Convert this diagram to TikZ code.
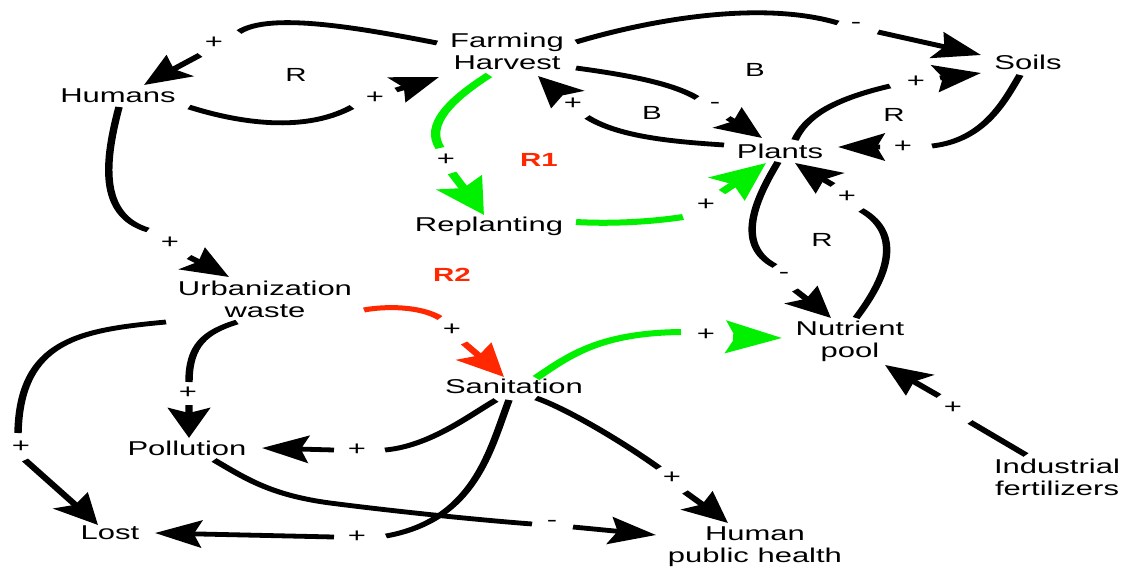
\documentclass[tikz,border=0pt]{standalone}
\usepackage{fontspec}
\setmainfont{Liberation Sans}
\usetikzlibrary{arrows.meta}
\definecolor{linkgreen}{RGB}{0,240,0}
\definecolor{linkred}{RGB}{255,40,0}
\tikzset{
  var/.style={font=\fontsize{20}{22}\selectfont, align=center, inner sep=0pt},
  sign/.style={font=\fontsize{20}{20}\selectfont, inner sep=0pt},
  loopname/.style={font=\fontsize{19}{20}\selectfont, inner sep=0pt},
  loopred/.style={font=\bfseries\fontsize{19}{20}\selectfont, text=linkred, inner sep=0pt},
  lnk/.style={line width=4.8pt, -{Stealth[length=30pt,width=27pt,inset=5pt]}},
  glnk/.style={draw=linkgreen, line width=6pt, -{Stealth[length=36pt,width=32pt,inset=6pt]}},
  rlnk/.style={draw=linkred, line width=5pt, -{Stealth[length=32pt,width=28pt,inset=5pt]}},
}
\begin{document}
\begin{tikzpicture}[x=1pt,y=-1pt]
\fill[white] (0,0) rectangle (1126,567);
\useasboundingbox (0,0) rectangle (1126,567);
% the whole diagram is laid out narrow and stretched sideways
\begin{scope}[x=0.645161pt, transform canvas={xscale=1.55}]
  % variables
  \node[var] (fh)   at (507,51)  {Farming\\Harvest};
  \node[var] (hum)  at (118,96)  {Humans};
  \node[var] (soil) at (1028,62) {Soils};
  \node[var] (pla)  at (780,151) {Plants};
  \node[var] (rep)  at (489,226) {Replanting};
  \node[var] (urb)  at (265,299) {Urbanization\\waste};
  \node[var] (san)  at (514,386) {Sanitation};
  \node[var] (nut)  at (850,341) {Nutrient\\pool};
  \node[var] (pol)  at (187,448) {Pollution};
  \node[var] (lost) at (110,533) {Lost};
  \node[var] (hph)  at (755,547) {Human\\public health};
  \node[var] (ind)  at (1057,477) {Industrial\\fertilizers};

  % link polarities
  \node[sign] (p1)  at (214,43)  {+};
  \node[sign] (p2)  at (375,98)  {+};
  \node[sign] (p3)  at (170,243) {+};
  \node[sign] (p4)  at (446,160) {+};
  \node[sign] (p5)  at (706,205) {+};
  \node[sign] (p6)  at (856,25)  {-};
  \node[sign] (p7)  at (715,105) {-};
  \node[sign] (p8)  at (573,104) {+};
  \node[sign] (p9)  at (916,82)  {+};
  \node[sign] (p10) at (903,147) {+};
  \node[sign] (p11) at (784,275) {-};
  \node[sign] (p12) at (847,197) {+};
  \node[sign] (p13) at (452,330) {+};
  \node[sign] (p14) at (188,393) {+};
  \node[sign] (p15) at (21,447)  {+};
  \node[sign] (p16) at (357,450) {+};
  \node[sign] (p17) at (357,537) {+};
  \node[sign] (p18) at (552,523) {-};
  \node[sign] (p19) at (672,478) {+};
  \node[sign] (p20) at (706,335) {+};
  \node[sign] (p21) at (953,408) {+};

  % loop identifiers
  \node[loopname] (l1) at (296,75)  {R};
  \node[loopname] (l2) at (755,70)  {B};
  \node[loopname] (l3) at (652,113) {B};
  \node[loopred]  (l4) at (539,160) {R1};
  \node[loopname] (l5) at (894,115) {R};
  \node[loopname] (l6) at (822,240) {R};
  \node[loopred]  (l7) at (452,275) {R2};

  % causal links
  \draw[lnk] ([shift={(-70,-8)}]fh.center) .. controls (360,28) and (270,12) .. ([shift={(25,-11)}]p1.center)
             ([shift={(-14,12)}]p1.center) -- ([shift={(26,-11)}]hum.center);
  \draw[lnk] ([shift={(71,11)}]hum.center) .. controls (230,120) and (300,135) .. ([shift={(-23,9)}]p2.center)
             ([shift={(21,-8)}]p2.center) -- ([shift={(-68,26)}]fh.center);
  \draw[lnk] ([shift={(1,11)}]hum.center) .. controls (105,160) and (98,215) .. ([shift={(-22,-13)}]p3.center)
             ([shift={(19,14)}]p3.center) -- ([shift={(-36,-22)}]urb.center);
  \draw[glnk] ([shift={(-18,24)}]fh.center) .. controls (450,100) and (425,125) .. ([shift={(-6,-12)}]p4.center)
             ([shift={(6,13)}]p4.center) -- ([shift={(-5,-11)}]rep.center);
  \draw[glnk] ([shift={(87,-4)}]rep.center) .. controls (610,224) and (650,222) .. ([shift={(-23,12)}]p5.center)
             ([shift={(16,-13)}]p5.center) -- ([shift={(-14,12)}]pla.center);
  \draw[lnk] ([shift={(69,-9)}]fh.center) .. controls (650,20) and (760,0) .. ([shift={(-18,-2)}]p6.center)
             ([shift={(22,7)}]p6.center) -- ([shift={(-47,-7)}]soil.center);
  \draw[lnk] ([shift={(69,17)}]fh.center) .. controls (620,74) and (670,82) .. ([shift={(-18,-7)}]p7.center)
             ([shift={(13,13)}]p7.center) -- ([shift={(-18,-13)}]pla.center);
  \draw[lnk] ([shift={(-56,-6)}]pla.center) .. controls (680,142) and (620,138) .. ([shift={(14,13)}]p8.center)
             ([shift={(-11,-9)}]p8.center) -- ([shift={(31,25)}]fh.center);
  \draw[lnk] ([shift={(15,-11)}]pla.center) .. controls (805,118) and (830,100) .. ([shift={(-26,4)}]p9.center)
             ([shift={(24,-4)}]p9.center) -- ([shift={(-47,11)}]soil.center);
  \draw[lnk] ([shift={(-8,13)}]soil.center) .. controls (1005,100) and (985,140) .. ([shift={(29,-1)}]p10.center)
             ([shift={(-23,0)}]p10.center) -- ([shift={(58,-4)}]pla.center);
  \draw[lnk] ([shift={(-2,11)}]pla.center) .. controls (755,200) and (735,245) .. ([shift={(-9,-9)}]p11.center)
             ([shift={(11,15)}]p11.center) -- ([shift={(-19,-23)}]nut.center);
  \draw[lnk] ([shift={(6,-23)}]nut.center) .. controls (885,280) and (905,235) .. ([shift={(14,13)}]p12.center)
             ([shift={(-14,-12)}]p12.center) -- ([shift={(15,12)}]pla.center);
  \draw[rlnk] ([shift={(99,11)}]urb.center) .. controls (385,306) and (420,306) .. ([shift={(-12,-12)}]p13.center)
             ([shift={(12,13)}]p13.center) -- ([shift={(-10,-9)}]san.center);
  \draw[lnk] ([shift={(-28,23)}]urb.center) .. controls (205,332) and (189,345) .. ([shift={(1,-11)}]p14.center)
             ([shift={(1,12)}]p14.center) -- ([shift={(2,-10)}]pol.center);
  \draw[lnk] ([shift={(-99,23)}]urb.center) .. controls (80,330) and (20,340) .. ([shift={(-3,-14)}]p15.center)
             ([shift={(4,13)}]p15.center) -- ([shift={(-12,-8)}]lost.center);
  \draw[lnk] ([shift={(-18,14)}]san.center) .. controls (470,415) and (430,446) .. ([shift={(28,0)}]p16.center)
             ([shift={(-23,0)}]p16.center) -- ([shift={(75,0)}]pol.center);
  \draw[lnk] ([shift={(-5,14)}]san.center) .. controls (490,450) and (475,520) .. ([shift={(29,-1)}]p17.center)
             ([shift={(-23,0)}]p17.center) -- ([shift={(45,0)}]lost.center);
  \draw[lnk] ([shift={(27,12)}]pol.center) .. controls (245,478) and (270,495) .. (330,503)
             .. controls (400,512) and (480,520) .. ([shift={(-20,1)}]p18.center)
             ([shift={(21,4)}]p18.center) -- ([shift={(-99,-12)}]hph.center);
  \draw[lnk] ([shift={(22,12)}]san.center) .. controls (565,408) and (620,440) .. ([shift={(-13,-10)}]p19.center)
             ([shift={(13,14)}]p19.center) -- ([shift={(-27,-24)}]hph.center);
  \draw[glnk] ([shift={(22,-8)}]san.center) .. controls (570,355) and (600,333) .. ([shift={(-25,-3)}]p20.center)
             ([shift={(27,2)}]p20.center) -- ([shift={(-68,-3)}]nut.center);
  \draw[lnk] ([shift={(-31,-22)}]ind.center) -- ([shift={(17,14)}]p21.center)
             ([shift={(-14,-12)}]p21.center) -- ([shift={(35,24)}]nut.center);
\end{scope}
\end{tikzpicture}
\end{document}
